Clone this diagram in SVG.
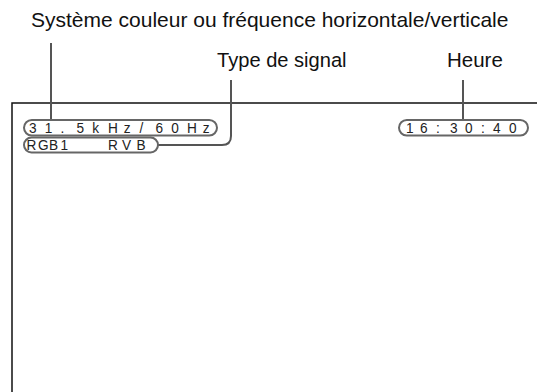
<svg xmlns="http://www.w3.org/2000/svg" width="537" height="392" viewBox="0 0 537 392">
<style>
.lbl{font-family:"Liberation Sans",Arial,sans-serif;font-size:20.5px;fill:#111}
.osd{font-family:"Liberation Sans",Arial,sans-serif;font-size:15.5px;fill:#222}
.pill{fill:none;stroke:#666;stroke-width:2}
.conn{fill:none;stroke:#555;stroke-width:2}
.frame{fill:none;stroke:#111;stroke-width:1.5}
</style>
<rect width="537" height="392" fill="#fff"/>
<g id="screen">
<path class="frame" d="M12 392 V103 H537"/>
</g>
<g id="connectors">
<path class="conn" d="M51 43 V120"/>
<path class="conn" d="M231 80 V136 Q231 145 222 145 H157"/>
<path class="conn" d="M463 80 V120"/>
</g>
<g id="label-systeme">
<text class="lbl" x="31" y="27" style="font-size:21px">Système couleur ou fréquence horizontale/verticale</text>
</g>
<g id="label-type">
<text class="lbl" x="217" y="67" style="font-size:20.1px">Type de signal</text>
</g>
<g id="label-heure">
<text class="lbl" x="447" y="67">Heure</text>
</g>
<g id="osd-frequency">
<rect class="pill" x="24" y="120" width="193" height="15.5" rx="7.75"/>
<text class="osd" transform="scale(0.88 1)" y="133.5" x="32.95 50.91 68.86 86.82 104.77 122.73 140.68 158.64 176.59 194.55 212.5 230.45">31.5kHz/60Hz</text>
</g>
<g id="osd-signal">
<rect class="pill" x="24" y="137.5" width="134" height="15" rx="7.5"/>
<text class="osd" transform="scale(0.88 1)" y="150.5" x="30.11 43.18 55.68 68.75 95.45 122.73 138.64 155.11">RGB1 RVB</text>
</g>
<g id="osd-time">
<rect class="pill" x="399" y="120" width="129" height="15.5" rx="7.75"/>
<text class="osd" transform="scale(0.88 1)" y="133.5" x="461.36 477.27 495.45 511.36 528.41 546.59 560.23 578.41">16:30:40</text>
</g>
</svg>
